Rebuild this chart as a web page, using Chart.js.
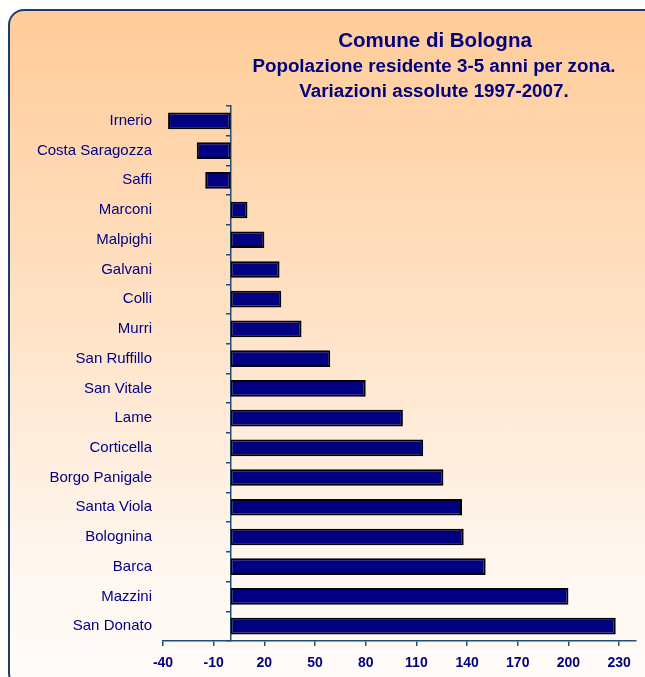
<!DOCTYPE html>
<html>
<head>
<meta charset="utf-8">
<script src="https://cdn.jsdelivr.net/npm/chart.js@4/dist/chart.umd.min.js"></script>
<style>
  html, body { margin: 0; padding: 0; background: #ffffff; overflow: hidden; }
  #cornice {
    position: absolute; left: 8px; top: 9px; width: 660px; height: 676px;
    border: 2px solid #1c3d6b; border-radius: 16px;
    background: linear-gradient(to bottom, #ffcc99 0%, #ffe2c6 45%, #fff6ee 80%, #fffcfa 100%);
  }
  #contenitore { position: absolute; left: 0; top: 0; width: 645px; height: 677px; }
</style>
</head>
<body>
<div id="cornice"></div>
<div id="contenitore"><canvas id="graficoZone"></canvas></div>
<script>
// Zone e variazioni assolute 1997-2007 (bambini 3-5 anni)
const zone = ["Irnerio", "Costa Saragozza", "Saffi", "Marconi", "Malpighi", "Galvani", "Colli", "Murri",
  "San Ruffillo", "San Vitale", "Lame", "Corticella", "Borgo Panigale", "Santa Viola", "Bolognina",
  "Barca", "Mazzini", "San Donato"];
const variazioni = [-37, -20, -15, 10, 20, 29, 30, 42, 59, 80, 102, 114, 126, 137, 138, 151, 200, 228];
const tickAsseX = [-40, -10, 20, 50, 80, 110, 140, 170, 200, 230];
const titolo = ["Comune di Bologna", "Popolazione residente 3-5 anni per zona.", "Variazioni assolute 1997-2007."];

const blu = "#000080";
const coloreAsse = "#1f4e79";
const font = "'Liberation Sans', Arial, sans-serif";

// Plugin per disegnare il titolo su tre righe
const pluginTitolo = {
  id: "titoloBologna",
  afterDraw(chart) {
    const ctx = chart.ctx;
    ctx.save();
    ctx.fillStyle = blu;
    ctx.textAlign = "center";
    ctx.textBaseline = "alphabetic";
    ctx.font = "bold 20.5px " + font;
    ctx.fillText(titolo[0], 435, 47);
    ctx.font = "bold 18.8px " + font;
    ctx.fillText(titolo[1], 434, 72);
    ctx.fillText(titolo[2], 434, 97);
    ctx.restore();
  }
};

const ctx = document.getElementById("graficoZone").getContext("2d");
new Chart(ctx, {
  type: "bar",
  data: {
    labels: zone,
    datasets: [{
      label: "Variazione assoluta",
      data: variazioni,
      backgroundColor: blu,
      borderColor: "#000000",
      borderWidth: 2,
      borderSkipped: false,
      barPercentage: 0.56,
      categoryPercentage: 1
    }]
  },
  options: {
    indexAxis: "y",
    responsive: true,
    maintainAspectRatio: false,
    animation: false,
    layout: { padding: { top: 106, left: 20, right: 9, bottom: 6 } },
    plugins: {
      legend: { display: false },
      tooltip: { enabled: false }
    },
    scales: {
      x: {
        min: -40,
        max: 240,
        afterBuildTicks: asse => { asse.ticks = tickAsseX.map(v => ({ value: v })); },
        afterFit: asse => { asse.height = 30; },
        grid: { drawOnChartArea: false, tickLength: 5, color: coloreAsse, lineWidth: 1.5 },
        border: { color: coloreAsse, width: 1.5 },
        ticks: { color: blu, padding: 9, font: { family: font, size: 14, weight: "bold" } }
      },
      y: {
        offset: true,
        grid: { display: false, drawTicks: false, offset: true },
        border: { display: false },
        afterFit: asse => { asse.width = 143; },
        ticks: { color: blu, padding: 11, font: { family: font, size: 15 } }
      },
      y2: {
        axis: "y",
        type: "category",
        position: { x: 0 },
        offset: true,
        grid: { drawOnChartArea: false, offset: true, tickLength: 4, color: coloreAsse, lineWidth: 1.5 },
        border: { color: coloreAsse, width: 1.5 },
        ticks: { display: false }
      }
    }
  },
  plugins: [pluginTitolo]
});
</script>
</body>
</html>
